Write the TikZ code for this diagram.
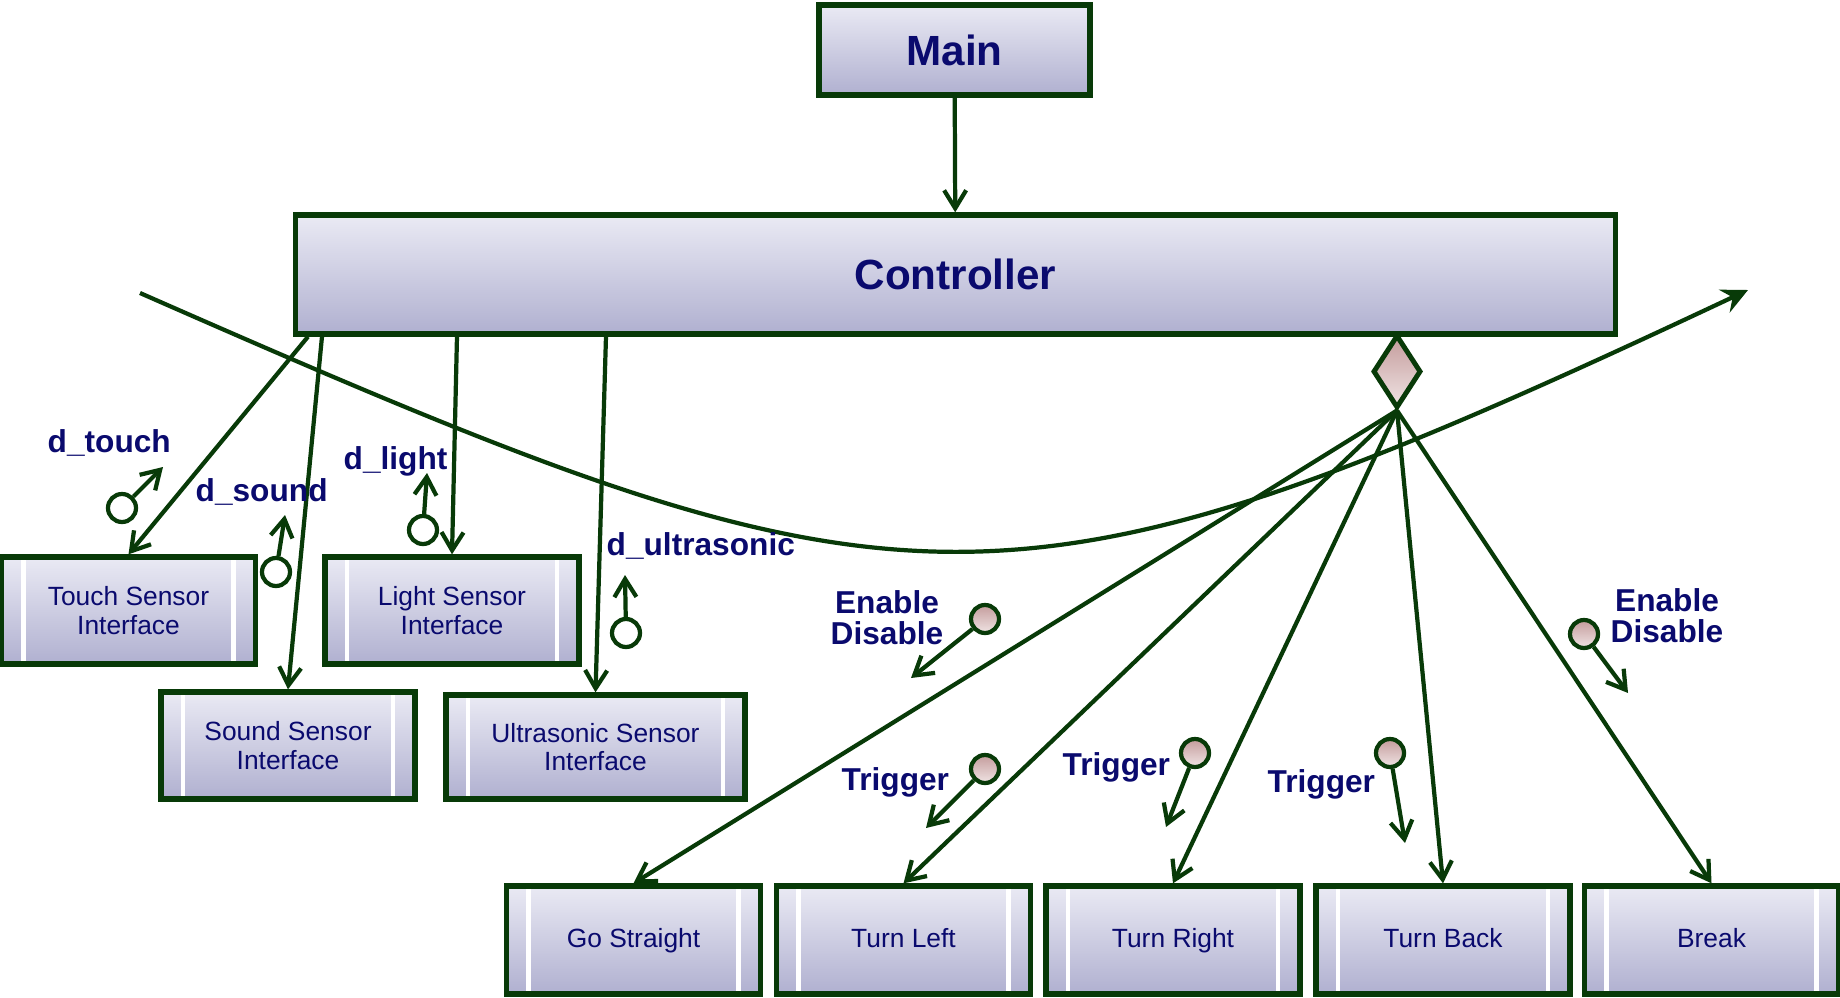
\documentclass[tikz,border=0pt]{standalone}
\usepackage{fontspec}
\setmainfont{Liberation Sans}
\usetikzlibrary{arrows.meta,shapes.geometric,calc}
\definecolor{lineg}{RGB}{8,58,8}
\definecolor{navy}{RGB}{10,10,110}
\definecolor{boxtop}{RGB}{234,234,244}
\definecolor{boxbot}{RGB}{176,176,208}
\definecolor{flagtop}{RGB}{196,156,156}
\definecolor{flagbot}{RGB}{240,228,228}

\begin{document}
\begin{tikzpicture}[x=0.01cm,y=-0.01cm,
        block/.style = {draw=lineg, line width=1.5pt, top color=boxtop, bottom color=boxbot, text=navy, font=\fontsize{12}{14}\selectfont\bfseries},
        module/.style = {draw=lineg, line width=1.5pt, top color=boxtop, bottom color=boxbot, text=navy, align=center,
            minimum width=2.54cm, minimum height=1.07cm, inner sep=0pt, font=\fontsize{7.5}{8.2}\selectfont,
            path picture={\draw[white,line width=1.2pt] ([xshift=2.2mm]path picture bounding box.north west) -- ([xshift=2.2mm]path picture bounding box.south west);
                \draw[white,line width=1.2pt] ([xshift=-2.2mm]path picture bounding box.north east) -- ([xshift=-2.2mm]path picture bounding box.south east);}},
        action/.style = {module, minimum height=1.08cm, text height=1.3ex, text depth=0.5ex},
        flow/.style = {draw=lineg, line width=1.2pt, -{Straight Barb[length=1.8mm,width=2.2mm]}},
        data/.style = {draw=lineg, circle, line width=1.2pt, fill=white, minimum size=0.28cm, inner sep=0pt},
        flag/.style = {data, top color=flagtop, bottom color=flagbot},
        lbl/.style = {text=navy, font=\fontsize{9}{8.8}\selectfont\bfseries, inner sep=0pt, align=center},]
        \useasboundingbox (0,0) rectangle (1840,997);

        \node[block, minimum width=2.71cm, minimum height=0.9cm] (main) at (954.5,50) {Main};
        \node[block, minimum width=13.19cm, minimum height=1.19cm] (ctrl) at (955.5,274.5) {Controller};
        \node[diamond, draw=lineg, line width=1.4pt, top color=flagtop, bottom color=flagbot, minimum width=0.48cm, minimum height=0.73cm, inner sep=0pt] (agg) at (1397,371.5) {};

        % sensors
        \node[module] (touch) at (128.5,610.5) {Touch Sensor\\Interface};
        \node[module] (light) at (452,610.5) {Light Sensor\\Interface};
        \node[module] (sound) at (288,745.5) {Sound Sensor\\Interface};
        \node[module, minimum width=2.99cm, minimum height=1.04cm] (ultra) at (595.5,747) {Ultrasonic Sensor\\Interface};

        % actions
        \node[action] (straight) at (633.5,940) {Go Straight};
        \node[action] (left) at (903.5,940) {Turn Left};
        \node[action] (right) at (1173,940) {Turn Right};
        \node[action] (back) at (1443,940) {Turn Back};
        \node[action] (brk) at (1711.5,940) {Break};

        \draw[flow] (main) -- (ctrl);
        \draw[flow] ($(ctrl.south west)+(15,0)$) -- (touch.north);
        \draw[flow] ($(ctrl.south west)+(29,0)$) -- (sound.north);
        \draw[flow] ($(ctrl.south west)+(164,0)$) -- (light.north);
        \draw[flow] ($(ctrl.south west)+(313,0)$) -- (ultra.north);
        \foreach \b in {straight,left,right,back,brk}
            \draw[flow] (agg.south) -- (\b.north);

        % loop
        \coordinate (loopS) at (140,293);
        \coordinate (loopE) at (1748,290);
        \draw[draw=lineg, line width=1.2pt, -{Stealth[length=2.6mm,width=2.5mm,inset=0.9mm]}] (loopS) .. controls (909,631) and (995,644) .. (loopE);

        % data couples
        \node[data] (ctouch) at (122,508) {};
        \node[data] (csound) at (276,572) {};
        \node[data] (clight) at (423,530) {};
        \node[data] (cultra) at (626,633) {};
        \coordinate (ttouch) at (163,467);
        \coordinate (tsound) at (285,515);
        \coordinate (tlight) at (427,473);
        \coordinate (tultra) at (625,575);
        \draw[flow] (ctouch) -- (ttouch);
        \draw[flow] (csound) -- (tsound);
        \draw[flow] (clight) -- (tlight);
        \draw[flow] (cultra) -- (tultra);
        \node[lbl, anchor=base west] (ltouch) at (47,452) {d\_touch};
        \node[lbl, anchor=base west] (lsound) at (195,501) {d\_sound};
        \node[lbl, anchor=base west] (llight) at (343,469) {d\_light};
        \node[lbl, anchor=base west] (lultra) at (606,555) {d\_ultrasonic};

        % control flags
        \node[flag] (fen1) at (985,619) {};
        \node[flag] (ftr1) at (985,769) {};
        \node[flag] (ftr2) at (1195,753) {};
        \node[flag] (ftr3) at (1390,753) {};
        \node[flag] (fen2) at (1584,634) {};
        \coordinate (ten1) at (911,678);
        \coordinate (ttr1) at (926,828);
        \coordinate (ttr2) at (1166,827);
        \coordinate (ttr3) at (1405,843);
        \coordinate (ten2) at (1628,693);
        \draw[flow] (fen1) -- (ten1);
        \draw[flow] (ftr1) -- (ttr1);
        \draw[flow] (ftr2) -- (ttr2);
        \draw[flow] (ftr3) -- (ttr3);
        \draw[flow] (fen2) -- (ten2);
        \node[lbl] (len1) at (887,618) {Enable\\Disable};
        \node[lbl] (len2) at (1667,616) {Enable\\Disable};
        \node[lbl, anchor=base west] (ltr1) at (841,790) {Trigger};
        \node[lbl, anchor=base west] (ltr2) at (1062,775) {Trigger};
        \node[lbl, anchor=base west] (ltr3) at (1267,792) {Trigger};
\end{tikzpicture}
\end{document}
